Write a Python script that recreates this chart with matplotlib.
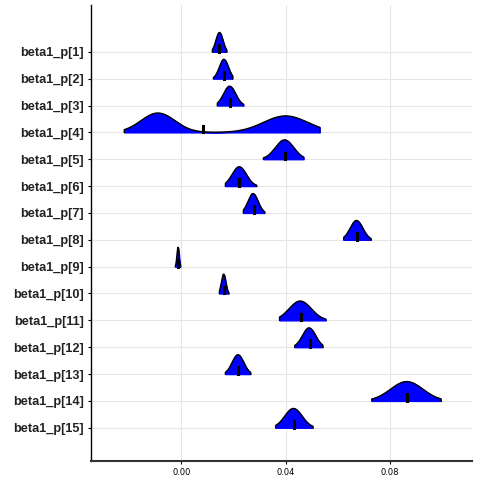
import numpy as np
import matplotlib
matplotlib.use("Agg")
import matplotlib.pyplot as plt

labels = [f"beta1_p[{i}]" for i in range(1, 16)]
lo = [0.0119, 0.0123, 0.0138, -0.0219, 0.0315, 0.0169, 0.0238, 0.0623, -0.0023, 0.0146, 0.0377, 0.0435, 0.0169, 0.0731, 0.0362]
hi = [0.0173, 0.0196, 0.0238, 0.0531, 0.0469, 0.0288, 0.0319, 0.0727, -0.0004, 0.0181, 0.0554, 0.0542, 0.0265, 0.0996, 0.0504]
med = [0.0146, 0.0165, 0.0188, 0.0085, 0.0396, 0.0223, 0.0277, 0.0673, -0.0012, 0.0162, 0.0458, 0.0492, 0.0219, 0.0865, 0.0431]
# mode components: (center, sd, weight)
modes = [[(0.0146, 0.0013, 1)], [(0.0163, 0.0017, 1)], [(0.0185, 0.0023, 1)],
         [(-0.009, 0.0065, 1), (0.040, 0.0085, 0.85)], [(0.0396, 0.0035, 1)],
         [(0.0222, 0.0027, 1)], [(0.0275, 0.0019, 1)], [(0.0672, 0.0024, 1)],
         [(-0.0013, 0.0004, 1)], [(0.0162, 0.0008, 1)], [(0.0456, 0.0042, 1)],
         [(0.0490, 0.0025, 1)], [(0.0217, 0.0022, 1)], [(0.0865, 0.0062, 1)],
         [(0.0430, 0.0033, 1)]]

fig, ax = plt.subplots(figsize=(4.8, 4.8), dpi=100)
fig.subplots_adjust(left=0.19, right=0.983, top=0.99, bottom=0.04)
n = len(labels)
H = 0.72
for i in range(n):
    y0 = n - i
    x = np.linspace(lo[i], hi[i], 300)
    d = sum(w * np.exp(-0.5 * ((x - c) / s) ** 2) for c, s, w in modes[i])
    d = d / d.max() * H
    ax.fill_between(x, y0, y0 + d, color="#0000ff", zorder=3)
    ax.plot(np.r_[x[0], x, x[-1]], np.r_[y0, y0 + d, y0], color="black", lw=1, zorder=4)
    ax.plot([med[i], med[i]], [y0, y0 + 0.25], color="black", lw=2.2, zorder=5)

ax.set_yticks(range(n, 0, -1))
ax.set_yticklabels(labels, fontsize=9.2, fontweight="bold", family="Liberation Sans", color="#222222")
ax.set_xticks([0.0, 0.04, 0.08])
ax.set_xticklabels(["0.00", "0.04", "0.08"], fontsize=6)
ax.set_xlim(-0.0346, 0.1115)
ax.set_ylim(-0.23, 16.75)
ax.grid(True, color="#e6e6e6", lw=0.8)
ax.set_axisbelow(True)
for s in ["top", "right"]:
    ax.spines[s].set_visible(False)
ax.spines["left"].set_linewidth(1)
ax.spines["bottom"].set_linewidth(1.5)
ax.spines["bottom"].set_color("#333333")
ax.tick_params(axis="both", length=2)
fig.savefig("out.png")
